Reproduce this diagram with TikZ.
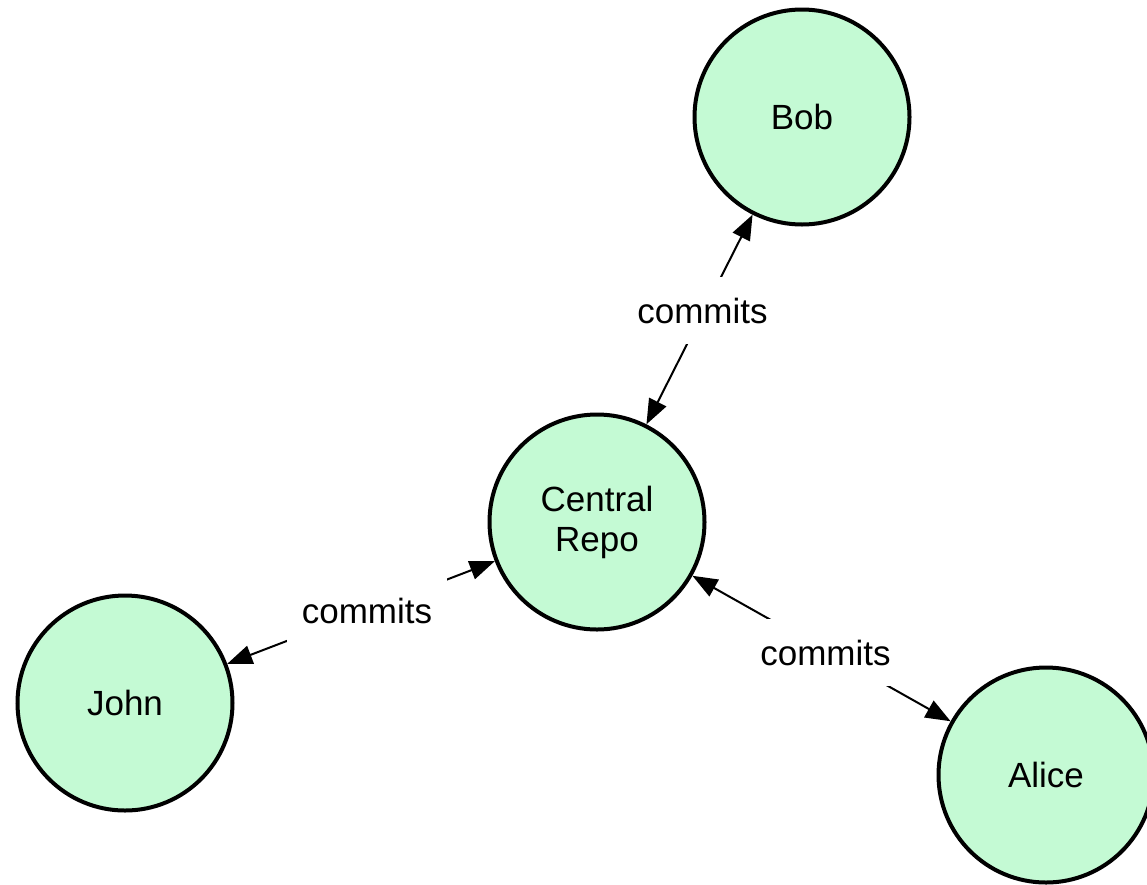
\documentclass[tikz,border=0pt]{standalone}
\usepackage{fontspec}
\setmainfont{Liberation Sans}
\usetikzlibrary{arrows.meta}

\definecolor{peerfill}{RGB}{196,250,212}

\tikzset{
  peer/.style={circle, draw=black, line width=4pt, fill=peerfill,
               minimum size=215pt, inner sep=0pt, align=center,
               font=\fontsize{35}{40}\selectfont},
  link/.style={line width=2pt, {Triangle[length=25pt,width=19pt]}-{Triangle[length=25pt,width=19pt]}},
  lbl/.style={fill=white, inner xsep=15pt, inner ysep=21pt,
              font=\fontsize{35}{40}\selectfont}
}

\begin{document}
\begin{tikzpicture}[x=1pt, y=-1pt]
  \useasboundingbox (0,0) rectangle (1147,884);
  \clip (0,0) rectangle (1147,884);

  % repositories
  \node[peer] (repo)  at (597,522)  {Central\\Repo};
  \node[peer] (bob)   at (802,117)  {Bob};
  \node[peer] (john)  at (125,703)  {John};
  \node[peer] (alice) at (1046,775) {Alice};

  % commit links
  \draw[link] (repo) -- node[lbl, xshift=3pt, yshift=9pt] {commits} (bob);
  \draw[link] (repo) -- node[lbl, xshift=6pt, yshift=2pt] {commits} (john);
  \draw[link] (repo) -- node[lbl, xshift=4pt, yshift=-4pt] {commits} (alice);
\end{tikzpicture}
\end{document}
